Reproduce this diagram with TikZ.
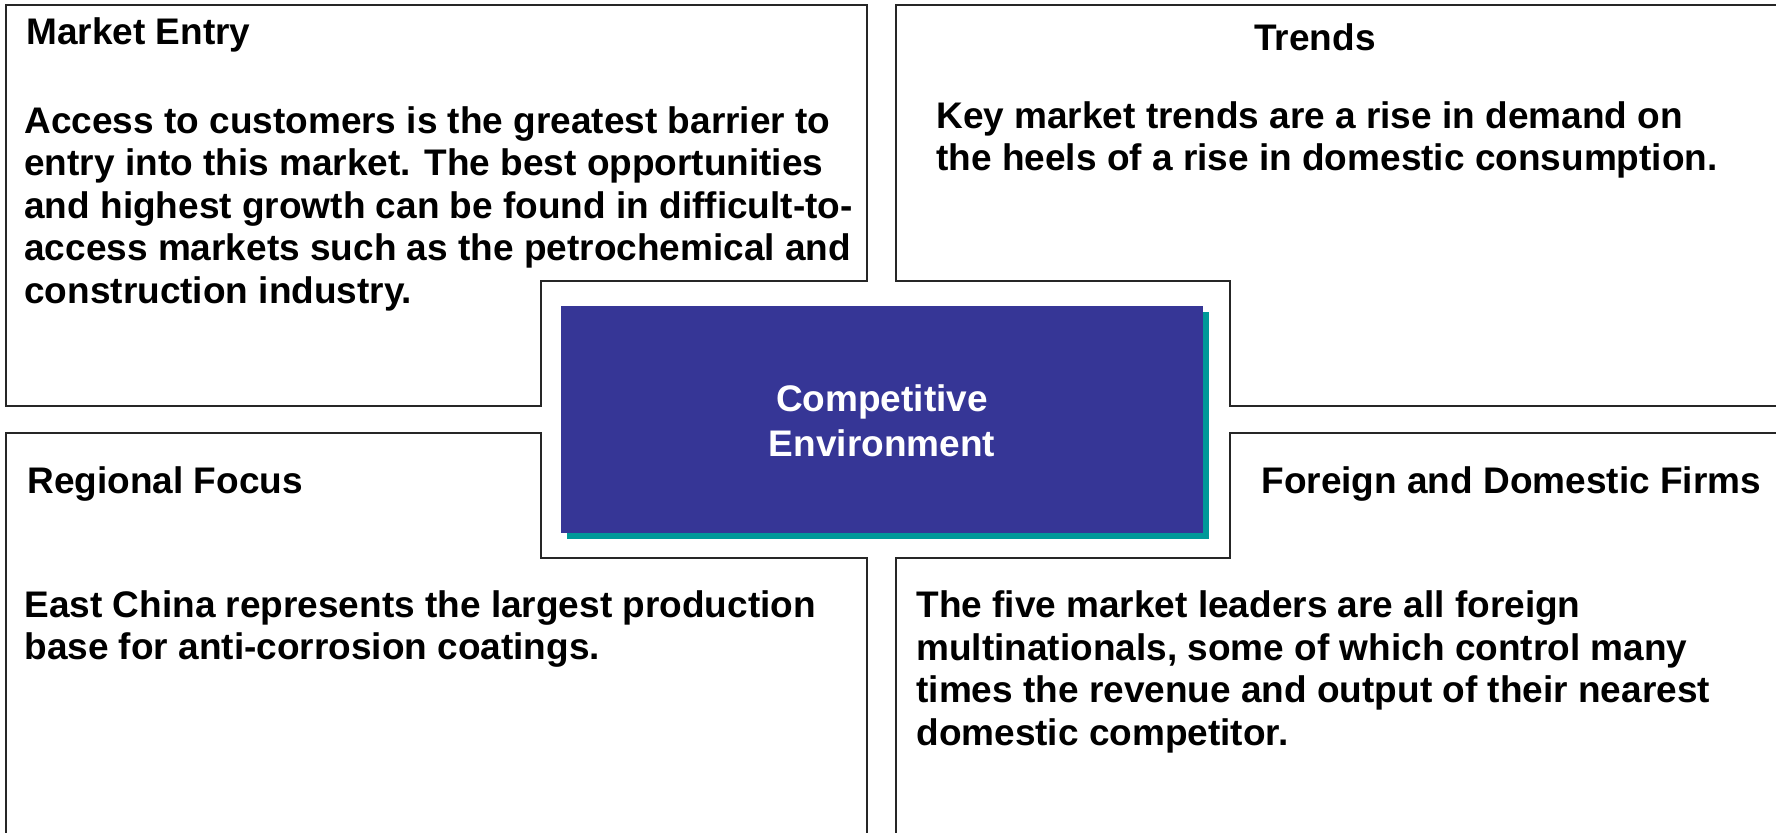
\documentclass[tikz,border=0pt]{standalone}
\usepackage{fontspec}
\setmainfont{Liberation Sans}
\definecolor{envblue}{RGB}{54,54,150}
\definecolor{envteal}{RGB}{0,153,153}

\begin{document}
\begin{tikzpicture}[x=0.5pt,y=-0.5pt,
        panel/.style={draw=black!85,line width=1pt},
        txt/.style={font=\bfseries\fontsize{18.5}{21.3}\selectfont,inner sep=0pt,anchor=base west,align=left}]
        \clip (0,0) rectangle (1776,832);
        % four panels round the centre
        \draw[panel] (6,4.5) -- (867,4.5) -- (867,281) -- (541,281) -- (541,406) -- (6,406) -- cycle;
        \draw[panel] (896,4.5) -- (1790,4.5) -- (1790,406) -- (1230,406) -- (1230,281) -- (896,281) -- cycle;
        \draw[panel] (6,433) -- (541,433) -- (541,558) -- (867,558) -- (867,850) -- (6,850) -- cycle;
        \draw[panel] (1230,433) -- (1790,433) -- (1790,850) -- (896,850) -- (896,558) -- (1230,558) -- cycle;
        % centre box with its shadow
        \fill[envteal] (567,312) rectangle (1209,539);
        \fill[envblue] (561,306) rectangle (1203,533);
        % multi-line texts sit on the baseline of their last line
        \node[txt,anchor=base,align=center,text=white,font=\bfseries\fontsize{18.5}{22.5}\selectfont] (env) at (882,456) {Competitive\\Environment};
        \node[txt] (entry) at (26,44) {Market Entry};
        \node[txt] (entrytext) at (24,303.4) {Access to customers is the greatest barrier to\\entry into this market. The best opportunities\\and highest growth can be found in difficult-to-\\access markets such as the petrochemical and\\construction industry.};
        \node[txt,anchor=base] (trends) at (1315,50) {Trends};
        \node[txt] (trendstext) at (936,170.6) {Key market trends are a rise in demand on\\the heels of a rise in domestic consumption.};
        \node[txt] (region) at (27,493) {Regional Focus};
        \node[txt] (regiontext) at (24,659.6) {East China represents the largest production\\base for anti-corrosion coatings.};
        \node[txt] (firms) at (1261,493) {Foreign and Domestic Firms};
        \node[txt] (firmstext) at (916,745.5) {The five market leaders are all foreign\\multinationals, some of which control many\\times the revenue and output of their nearest\\domestic competitor.};
\end{tikzpicture}
\end{document}
